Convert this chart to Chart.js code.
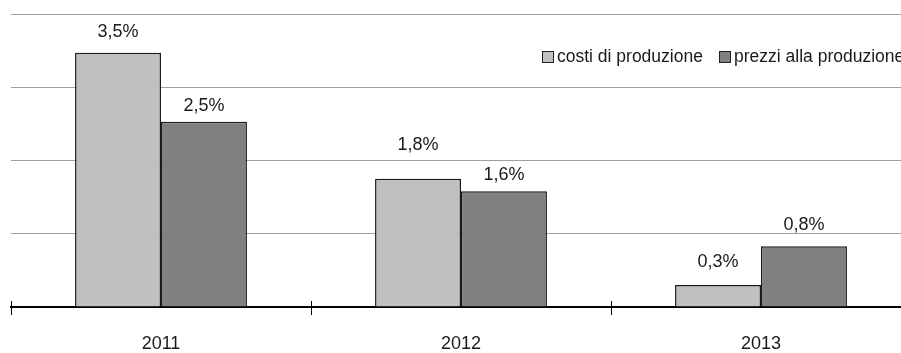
<!DOCTYPE html>
<html>
<head>
<meta charset="utf-8">
<script src="https://cdn.jsdelivr.net/npm/chart.js@4"></script>
<style>
  body { margin: 0; overflow: hidden; background: #fff; }
  #wrap { width: 901px; height: 353px; overflow: hidden; }
</style>
</head>
<body>
<div id="wrap"><canvas id="myChart" width="911" height="353"></canvas></div>
<script>
var labels = ['2011', '2012', '2013'];
var costi = [3.47, 1.75, 0.3];
var prezzi = [2.53, 1.58, 0.83];
var costiLabels = ['3,5%', '1,8%', '0,3%'];
var prezziLabels = ['2,5%', '1,6%', '0,8%'];
var seriesNames = ['costi di produzione', 'prezzi alla produzione'];

// distance of each value label above its bar (px), as placed in the original
var labelGap = [[21, 34, 23], [16, 16, 21]];

var FONT = '"Liberation Sans", Arial, sans-serif';

var extras = {
  id: 'extras',
  afterDatasetsDraw: function(chart) {
    var ctx = chart.ctx;
    var xs = chart.scales.x;
    var area = chart.chartArea;
    ctx.save();
    // data labels
    ctx.font = '18px ' + FONT;
    ctx.fillStyle = '#1a1a1a';
    ctx.textAlign = 'center';
    ctx.textBaseline = 'middle';
    var texts = [costiLabels, prezziLabels];
    chart.data.datasets.forEach(function(ds, di) {
      chart.getDatasetMeta(di).data.forEach(function(bar, i) {
        ctx.fillText(texts[di][i], bar.x, bar.y - labelGap[di][i]);
      });
    });
    // tick marks crossing the axis
    ctx.strokeStyle = '#000';
    ctx.lineWidth = 1;
    var step = xs.getPixelForValue(1) - xs.getPixelForValue(0);
    for (var i = 0; i < labels.length; i++) {
      var x = Math.round(xs.getPixelForValue(i) - step / 2) + 0.5;
      ctx.beginPath();
      ctx.moveTo(x, area.bottom - 6);
      ctx.lineTo(x, area.bottom + 8);
      ctx.stroke();
    }
    // legend
    var colors = ['#c0c0c0', '#808080'];
    var lx = [542, 719];
    ctx.font = '17.5px ' + FONT;
    ctx.textAlign = 'left';
    ctx.textBaseline = 'middle';
    for (var k = 0; k < 2; k++) {
      ctx.fillStyle = colors[k];
      ctx.fillRect(lx[k], 51, 11, 11);
      ctx.strokeStyle = '#222';
      ctx.strokeRect(lx[k] + 0.5, 51.5, 11, 11);
      ctx.fillStyle = '#1a1a1a';
      ctx.fillText(seriesNames[k], lx[k] + 15, 57);
    }
    ctx.restore();
  }
};

var ctx = document.getElementById('myChart');
var myChart = new Chart(ctx, {
  type: 'bar',
  data: {
    labels: labels,
    datasets: [{
      label: seriesNames[0],
      data: costi,
      backgroundColor: '#c0c0c0',
      borderColor: '#1a1a1a',
      borderWidth: 1.5,
    },
    {
      label: seriesNames[1],
      data: prezzi,
      backgroundColor: '#808080',
      borderColor: '#1a1a1a',
      borderWidth: 1.5,
    }],
  },
  options: {
    responsive: false,
    animation: false,
    layout: { padding: { left: 11, top: 14, right: 0, bottom: 0 } },
    plugins: {
      legend: { display: false },
      tooltip: { enabled: false }
    },
    datasets: {
      bar: { categoryPercentage: 0.573, barPercentage: 1 }
    },
    scales: {
      x: {
        grid: { display: false, drawTicks: false },
        border: { display: true, color: '#000', width: 2 },
        ticks: { padding: 26, color: '#1a1a1a', font: { family: FONT, size: 18 } },
        afterFit: function(s) { s.height = 46; }
      },
      y: {
        min: 0,
        max: 4,
        ticks: { stepSize: 1, display: false },
        grid: { color: '#a0a0a0', lineWidth: 1, drawTicks: false },
        border: { display: false }
      }
    }
  },
  plugins: [extras]
});
</script>
</body>
</html>
